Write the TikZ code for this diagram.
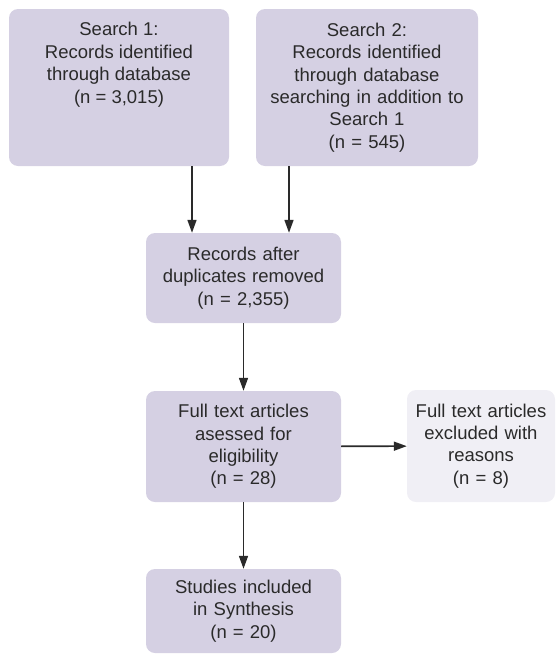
\documentclass[tikz,border=0pt]{standalone}
\usepackage{fontspec}
\setmainfont{Liberation Sans}
\usetikzlibrary{arrows.meta}
\definecolor{boxfill}{HTML}{D5D0E3}
\definecolor{lightfill}{HTML}{F0EFF5}
\definecolor{inkgray}{HTML}{2A2A2A}

\begin{document}
\begin{tikzpicture}[x=1pt,y=-1pt,
    recbox/.style={fill=boxfill, rounded corners=9pt, align=center,
      inner xsep=5pt, inner ysep=4pt, text=inkgray,
      font=\fontsize{18.5}{22.4}\selectfont},
    flowarrow/.style={draw=inkgray, line width=1.6pt,
      -{Triangle[length=13pt,width=9pt]}}]

  \useasboundingbox (0,0) rectangle (557,654);

  % the two searches
  \node[recbox, minimum width=220pt, minimum height=157pt] (search1) at (119,87.5)
        {\parbox[c][130pt][t]{210pt}{\centering
         Search 1:\\Records identified\\through database\\(n = 3,015)}};
  \node[recbox, text width=212pt, minimum width=222pt, minimum height=157pt]
        (search2) at (367,87.5)
        {Search 2:\\Records identified\\through database\\searching in addition to\\Search 1\\(n = 545)};

  % screening steps
  \node[recbox, text width=185pt, minimum width=195pt, minimum height=90pt]
        (dedup) at (243.5,278)
        {Records after\\duplicates removed\\(n = 2,355)};
  \node[recbox, text width=185pt, minimum width=195pt, minimum height=111pt]
        (fulltext) at (243.5,446.5)
        {Full text articles\\asessed for\\eligibility\\(n = 28)};
  \node[recbox, fill=lightfill, text width=138pt, minimum width=148pt,
        minimum height=112pt] (excluded) at (481,446)
        {Full text articles\\excluded with\\reasons\\(n = 8)};
  \node[recbox, text width=185pt, minimum width=195pt, minimum height=84pt]
        (included) at (243.5,611)
        {Studies included\\in Synthesis\\(n = 20)};

  \draw[flowarrow] ([xshift=73pt]search1.south) -- ([xshift=73pt]search1.south |- dedup.north);
  \draw[flowarrow] ([xshift=-78pt]search2.south) -- ([xshift=-78pt]search2.south |- dedup.north);
  \draw[flowarrow] (dedup) -- (fulltext);
  \draw[flowarrow] (fulltext) -- (excluded);
  \draw[flowarrow] (fulltext) -- (included);
\end{tikzpicture}
\end{document}
